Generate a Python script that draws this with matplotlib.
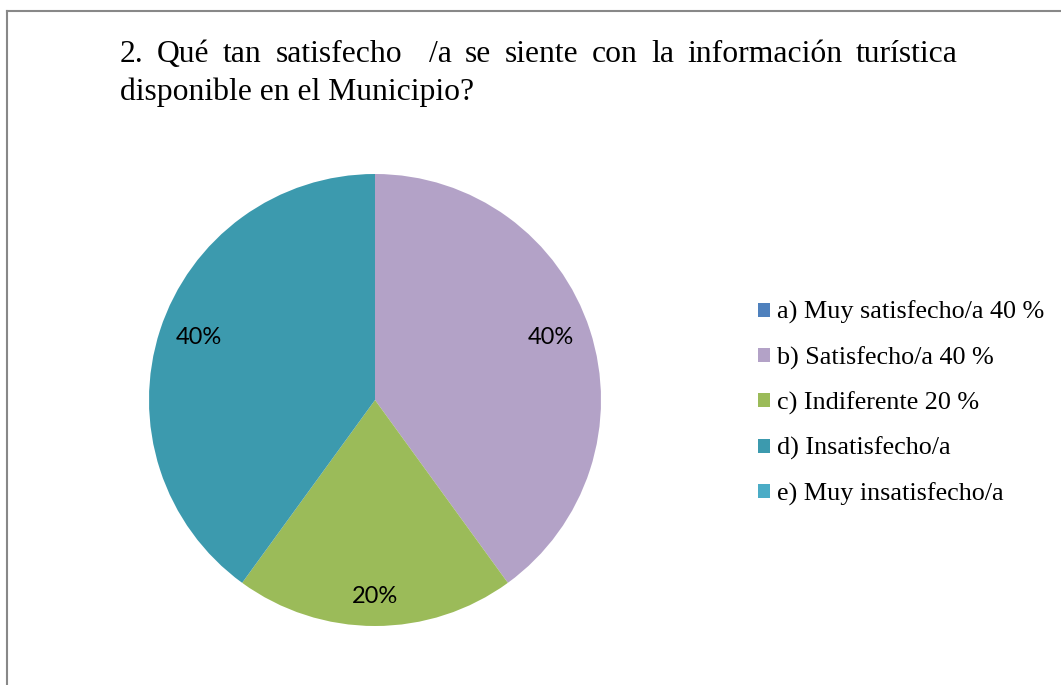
import matplotlib
matplotlib.use("Agg")
import matplotlib.pyplot as plt
from matplotlib.patches import Patch
from matplotlib.lines import Line2D

# datos de la encuesta
categories = ["a) Muy satisfecho/a 40 %", "b) Satisfecho/a 40 %",
              "c) Indiferente 20 %", "d) Insatisfecho/a", "e) Muy insatisfecho/a"]
values = [0, 40, 20, 40, 0]
colors = ["#4F81BD", "#B3A2C7", "#9BBB59", "#3C9AAE", "#4BACC6"]

title_l1 = "2. Qué tan satisfecho  /a se siente con la información turística"
title_l2 = "disponible en el Municipio?"

W, H = 1061, 685
fig = plt.figure(figsize=(W / 100, H / 100), dpi=100)

# pie centered around (375, 400) px, radius ~226 px
cx, cy, r = 375, 400, 226
ax = fig.add_axes([(cx - r) / W, 1 - (cy + r) / H, 2 * r / W, 2 * r / H])

def pct(p):
    return "%d%%" % round(p) if p > 0.5 else ""

wedges, texts, autotexts = ax.pie(values, colors=colors, startangle=90, counterclock=False,
                                  autopct=pct, pctdistance=0.82,
                                  wedgeprops=dict(linewidth=0),
                                  textprops=dict(family="Lato", fontsize=17, color="black"))
ax.set_aspect("equal")
ax.set_xlim(-1, 1)
ax.set_ylim(-1, 1)

# nudge labels to where the original puts them
label_dist = [0.82, 0.82, 0.87, 0.82, 0.82]
label_dy = [0, 0.025, 0, 0.025, 0]
for t, d, dy in zip(autotexts, label_dist, label_dy):
    x, y = t.get_position()
    n = (x * x + y * y) ** 0.5
    if n > 0:
        t.set_position((x / n * d, y / n * d + dy))

# title: first line justified between 120 and 958 px
fs_title = 22.8
renderer = fig.canvas.get_renderer()
words = title_l1.split(" ")
widths = []
for w in words:
    if w:
        t = fig.text(0, 0, w, family="Liberation Serif", fontsize=fs_title)
        widths.append(t.get_window_extent(renderer).width)
        t.remove()
    else:
        widths.append(0)
gap = (958 - 120 - sum(widths)) / (len(words) - 1)
xpos = 120
for w, wd in zip(words, widths):
    if w:
        fig.text(xpos / W, 1 - 62 / H, w, family="Liberation Serif", fontsize=fs_title,
                 ha="left", va="baseline")
    xpos += wd + gap
fig.text(120 / W, 1 - 100 / H, title_l2, family="Liberation Serif", fontsize=fs_title,
         ha="left", va="baseline")

handles = [Patch(facecolor=c, edgecolor="none") for c in colors]
leg = fig.legend(handles, categories, loc="upper left", bbox_to_anchor=(758 / W, 1 - 301 / H),
                 frameon=False, prop=dict(family="Liberation Serif", size=18.8),
                 handlelength=0.46, handleheight=0.46, handletextpad=0.25,
                 labelspacing=0.84, borderaxespad=0, borderpad=0)

# gray frame lines (left and top only visible)
fig.add_artist(Line2D([7 / W, 7 / W], [0, 1 - 11 / H], transform=fig.transFigure,
                      color="#888888", linewidth=1.5))
fig.add_artist(Line2D([7 / W, 1], [1 - 11 / H, 1 - 11 / H], transform=fig.transFigure,
                      color="#888888", linewidth=1.5))

fig.savefig("out.png", dpi=100)
